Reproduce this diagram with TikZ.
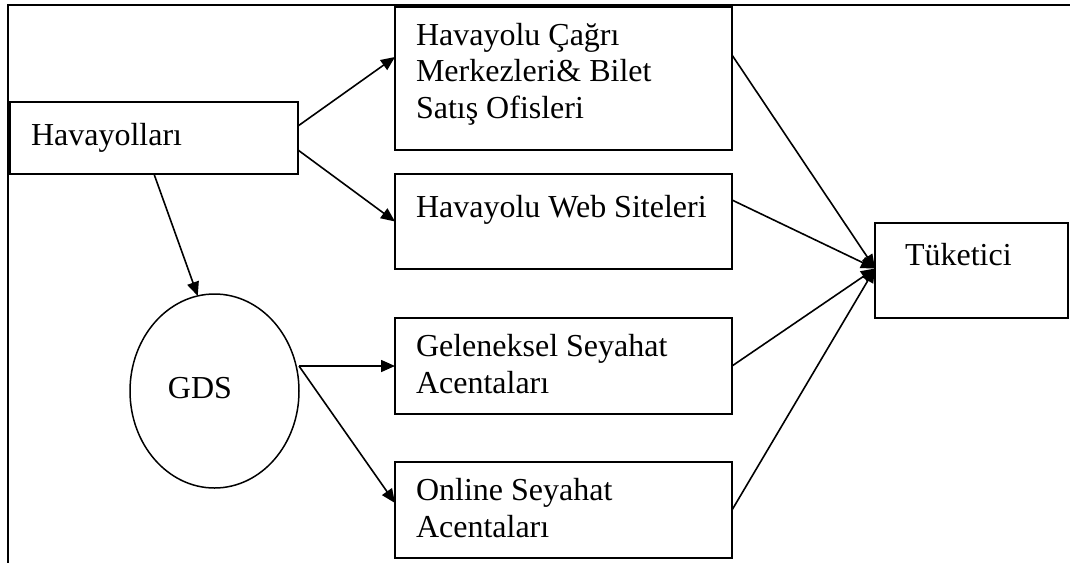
\documentclass[tikz,border=0pt]{standalone}
\usepackage{fontspec}
\setmainfont{Liberation Serif}
\usetikzlibrary{arrows.meta,shapes.geometric}
\begin{document}
\begin{tikzpicture}[x=1pt,y=-1pt,
  box/.style={draw, line width=1.8pt, inner sep=0pt, outer sep=0pt},
  txt/.style={font=\fontsize{32}{36.5}\selectfont, inner sep=0pt, outer sep=0pt, anchor=base west, align=left},
  arr/.style={line width=1.6pt, -{Triangle[length=14pt,width=12pt]}},
  frameline/.style={line width=2.4pt}]
\useasboundingbox (0,0) rectangle (1070,563);
% open frame: top and left edges
\coordinate (ftop) at (1070,5);
\coordinate (fcorner) at (8,5);
\coordinate (fbot) at (8,563);
\draw[frameline] (ftop) -- (fcorner) -- (fbot);

% boxes
\node[box, minimum width=288pt, minimum height=72pt] (hav) at (154,138) {};
\node[box, minimum width=337pt, minimum height=143pt] (cagri) at (563.5,78.5) {};
\node[box, minimum width=337pt, minimum height=95pt] (web) at (563.5,221.5) {};
\node[box, minimum width=337pt, minimum height=96pt] (gel) at (563.5,366) {};
\node[box, minimum width=337pt, minimum height=96pt] (onl) at (563.5,510) {};
\node[box, minimum width=193pt, minimum height=95pt] (tuk) at (971.5,270.5) {};
\node[draw, ellipse, line width=1.5pt, inner sep=0pt, outer sep=0pt,
      minimum width=169pt, minimum height=194pt] (gds) at (214.5,391) {};

% texts (base anchor sits on the last line)
\node[txt] (thav) at ([xshift=21pt,yshift=-43pt]hav.north west) {Havayolları};
\node[txt] (tcagri) at ([xshift=21pt,yshift=-111pt]cagri.north west) {Havayolu Çağrı\\Merkezleri\& Bilet\\Satış Ofisleri};
\node[txt] (tweb) at ([xshift=21pt,yshift=-43pt]web.north west) {Havayolu Web Siteleri};
\node[txt] (tgel) at ([xshift=21pt,yshift=-75pt]gel.north west) {Geleneksel Seyahat\\Acentaları};
\node[txt] (tonl) at ([xshift=21pt,yshift=-75pt]onl.north west) {Online Seyahat\\Acentaları};
\node[txt] (ttuk) at ([xshift=30pt,yshift=-42pt]tuk.north west) {Tüketici};
\node[txt, anchor=base] (tgds) at ([xshift=-14.5pt,yshift=-7pt]gds.center) {GDS};

% connectors
\draw[arr] ([yshift=12pt]hav.east) -- ([yshift=21.5pt]cagri.west);
\draw[arr] ([yshift=-12pt]hav.east) -- (web.west);
\draw[arr] (hav.south) -- (gds.100);
\coordinate (gout) at (gds.east |- gel.west);
\draw[arr] (gout) -- (gel.west);
\draw[arr] (gout) -- ([yshift=7pt]onl.west);
\coordinate (tin) at ([yshift=2pt]tuk.west);
\draw[arr] ([yshift=23.5pt]cagri.east) -- (tin);
\draw[arr] ([yshift=21.5pt]web.east) -- (tin);
\draw[arr] (gel.east) -- (tin);
\draw[arr] (onl.east) -- (tin);
\end{tikzpicture}
\end{document}
